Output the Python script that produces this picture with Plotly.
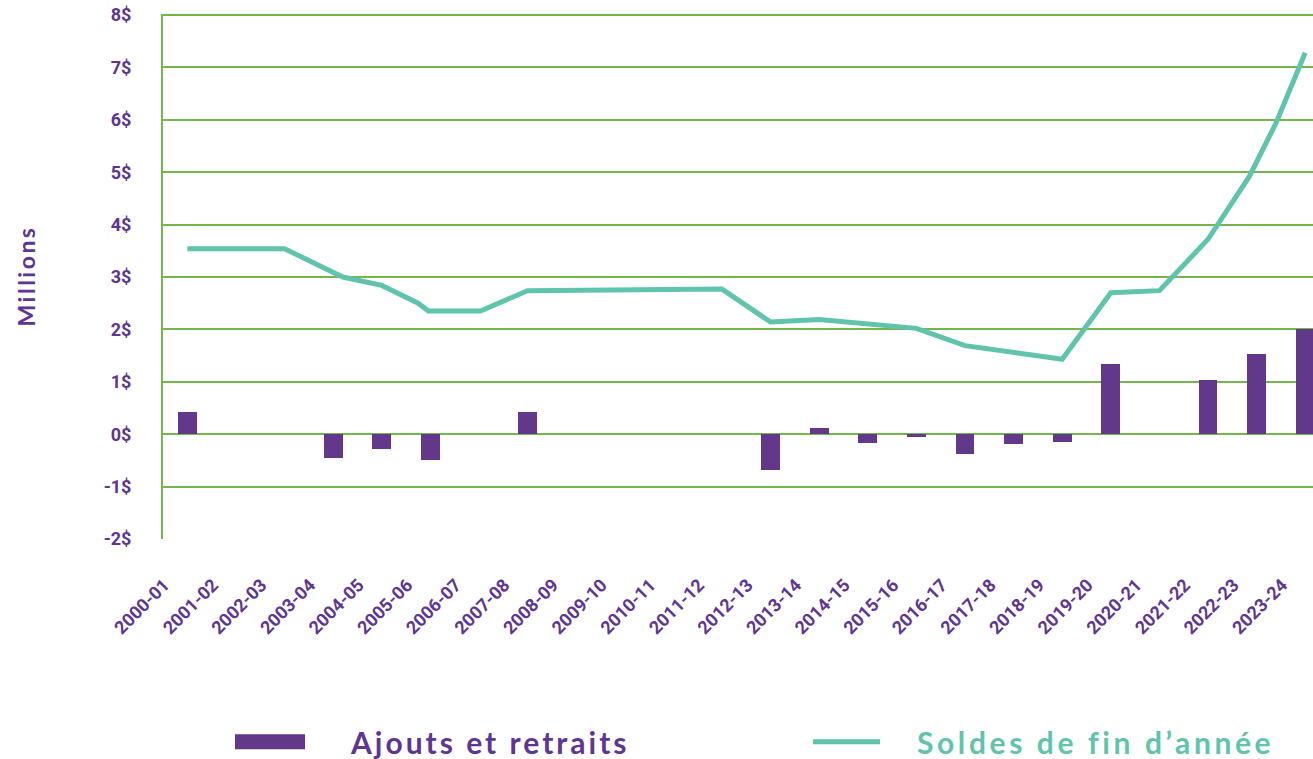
import plotly.graph_objects as go

# fiscal years on the category axis
years = [
    "2000-01", "2001-02", "2002-03", "2003-04", "2004-05", "2005-06",
    "2006-07", "2007-08", "2008-09", "2009-10", "2010-11", "2011-12",
    "2012-13", "2013-14", "2014-15", "2015-16", "2016-17", "2017-18",
    "2018-19", "2019-20", "2020-21", "2021-22", "2022-23", "2023-24",
]

# additions / withdrawals (millions $)
flows = [
    0.42, 0, 0, -0.45, -0.28, -0.49,
    0, 0.42, 0, 0, 0, 0,
    -0.68, 0.11, -0.17, -0.05, -0.38, -0.19,
    -0.15, 1.34, 0, 1.03, 1.53, 2.01,
]

# year-end balance (millions $), position in years since 2000-01
balance_pos = [0, 2, 3.2, 4, 4.75, 4.96, 6.03, 7, 11, 12, 13, 15, 16, 18,
               19, 20, 21, 21.85, 22.4, 23]
balance_vals = [3.54, 3.54, 3.0, 2.84, 2.5, 2.35, 2.35, 2.74, 2.77, 2.14,
                2.19, 2.02, 1.69, 1.43, 2.70, 2.74, 3.72, 4.92, 5.94, 7.28]

y_ticks = list(range(-2, 9))

PURPLE = "#62388A"
TEXT_PURPLE = "#5E3592"
TEAL = "#5FC4AB"
GREEN = "#73B74B"

idx = list(range(len(years)))

fig = go.Figure()

fig.add_trace(
    go.Bar(
        x=idx,
        y=flows,
        width=0.39,
        marker=dict(color=PURPLE, line=dict(width=0)),
        name="Ajouts et retraits",
        showlegend=False,
    )
)

fig.add_trace(
    go.Scatter(
        x=balance_pos,
        y=balance_vals,
        mode="lines",
        line=dict(color=TEAL, width=5),
        name="Soldes de fin d’année",
        showlegend=False,
    )
)

tick_font = dict(family="Roboto", size=18, color=TEXT_PURPLE, weight="bold")

fig.update_xaxes(
    range=[-0.5, 23.16],
    tickmode="array",
    tickvals=idx,
    ticktext=years,
    tickangle=-45,
    tickfont=tick_font,
    ticklabelstandoff=31,
    ticklabelshift=-23,
    showgrid=False,
    zeroline=False,
    showline=False,
    automargin=False,
)

fig.update_yaxes(
    range=[-2, 8.02],
    tickmode="array",
    tickvals=y_ticks,
    ticktext=[f"{v}$" for v in y_ticks],
    tickfont=tick_font,
    ticklabelstandoff=26,
    ticklabeloverflow="allow",
    showgrid=True,
    gridcolor=GREEN,
    gridwidth=2,
    zeroline=False,
    showline=True,
    linecolor=GREEN,
    linewidth=2,
    automargin=False,
)

# axis title
fig.add_annotation(xref="paper", yref="paper", x=-0.12, y=0.5,
                   xanchor="center", yanchor="middle", showarrow=False,
                   textangle=-90,
                   text="<span style='letter-spacing:2.5px'>Millions</span>",
                   font=dict(family="Lato", size=23, color=TEXT_PURPLE, weight="bold"))

# legend drawn by hand to get the wide keys
legend_y = -0.386
fig.add_shape(type="rect", xref="paper", yref="paper",
              x0=0.0626, x1=0.1235, y0=legend_y - 0.0143, y1=legend_y + 0.0143,
              fillcolor=PURPLE, line=dict(width=0))
fig.add_shape(type="line", xref="paper", yref="paper",
              x0=0.5652, x1=0.6235, y0=legend_y, y1=legend_y,
              line=dict(color=TEAL, width=5))
legend_font = dict(family="Lato", size=30, weight="bold")
fig.add_annotation(xref="paper", yref="paper", x=0.1609, y=legend_y,
                   xanchor="left", yanchor="middle", showarrow=False,
                   text="<span style='letter-spacing:3px'>Ajouts et retraits</span>",
                   font=dict(legend_font, color=TEXT_PURPLE))
fig.add_annotation(xref="paper", yref="paper", x=0.654, y=legend_y,
                   xanchor="left", yanchor="middle", showarrow=False,
                   text="<span style='letter-spacing:3.6px'>Soldes de fin d’année</span>",
                   font=dict(legend_font, color=TEAL))

fig.update_layout(
    width=1313,
    height=759,
    template="plotly_white",
    plot_bgcolor="white",
    paper_bgcolor="white",
    bargap=0,
    margin=dict(l=163, r=0, t=14, b=220),
)

# drop the default body margin so the figure sits at the page corner
fig.write_html(
    "out.html",
    config={"displayModeBar": False},
    post_script="document.body.style.margin='0';",
)
